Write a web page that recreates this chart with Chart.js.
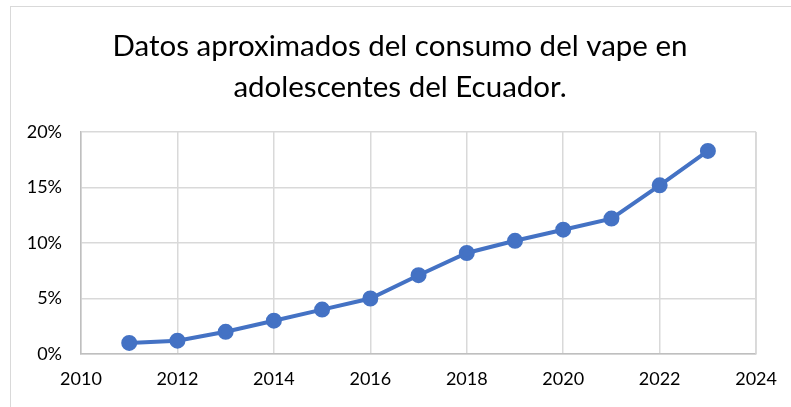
<!DOCTYPE html>
<html>
<head>
<meta charset="utf-8">
<script src="https://cdn.jsdelivr.net/npm/chart.js@4"></script>
<style>
  html, body { margin: 0; padding: 0; background: #fff; }
  #wrap { position: relative; width: 791px; height: 407px; overflow: hidden; }
  #frame { position: absolute; left: 10px; top: 6px; width: 900px; height: 500px;
           border-top: 1px solid #d9d9d9; border-left: 1px solid #d9d9d9; }
  canvas { position: absolute; left: 0; top: 0; }
</style>
</head>
<body>
<div id="wrap">
  <div id="frame"></div>
  <canvas id="vapeChart" width="791" height="407"></canvas>
</div>
<script>
const years = [2011, 2012, 2013, 2014, 2015, 2016, 2017, 2018, 2019, 2020, 2021, 2022, 2023];
const usage = [1.0, 1.2, 2.0, 3.0, 4.0, 5.0, 7.1, 9.1, 10.2, 11.2, 12.2, 15.2, 18.3];
const titleLines = ["Datos aproximados del consumo del vape en", "adolescentes del Ecuador."];

Chart.defaults.font.family = "Lato, 'Liberation Sans', sans-serif";
Chart.defaults.color = "#262626";

const ctx = document.getElementById("vapeChart");
new Chart(ctx, {
  type: "line",
  data: {
    datasets: [{
      label: "Consumo",
      data: years.map((y, i) => ({ x: y, y: usage[i] })),
      borderColor: "#4472c4",
      backgroundColor: "#4472c4",
      borderWidth: 4,
      pointRadius: 6,
      pointHoverRadius: 6,
      tension: 0
    }]
  },
  options: {
    responsive: false,
    animation: false,
    layout: { padding: { left: 9, right: 0, top: 0, bottom: 0 } },
    plugins: {
      legend: { display: false },
      tooltip: { enabled: false },
      title: {
        display: true,
        text: titleLines,
        color: "#000",
        font: { size: 29.5, weight: "normal", lineHeight: 1.39 },
        padding: { top: 26, bottom: 24 }
      }
    },
    scales: {
      x: {
        type: "linear",
        min: 2010,
        max: 2024,
        ticks: {
          stepSize: 2,
          padding: 14,
          color: "#000",
          font: { size: 18 },
          callback: v => String(v)
        },
        grid: { color: "#d9d9d9", lineWidth: 1.5, drawTicks: false },
        border: { color: "#bfbfbf", width: 1.5 },
        afterFit: s => { s.height = 53; }
      },
      y: {
        min: 0,
        max: 20,
        ticks: {
          stepSize: 5,
          padding: 19,
          color: "#000",
          font: { size: 18 },
          callback: v => v + "%"
        },
        grid: { color: "#d9d9d9", lineWidth: 1.5, drawTicks: false },
        border: { color: "#bfbfbf", width: 1.5 },
        afterFit: s => { s.width = 72; }
      },
      // empty right-hand strip so the plot ends where the reference does
      yRight: {
        position: "right",
        min: 0,
        max: 20,
        grid: { display: false, drawTicks: false },
        border: { display: false },
        ticks: { display: false },
        afterFit: s => { s.width = 34; }
      }
    }
  },
  plugins: [{
    id: "rightEdge",
    afterDraw(chart) {
      const a = chart.chartArea, c = chart.ctx;
      c.save();
      c.strokeStyle = "#d9d9d9";
      c.lineWidth = 1.5;
      c.beginPath();
      c.moveTo(a.right, a.top);
      c.lineTo(a.right, a.bottom);
      c.stroke();
      c.restore();
    }
  }]
});
</script>
</body>
</html>
